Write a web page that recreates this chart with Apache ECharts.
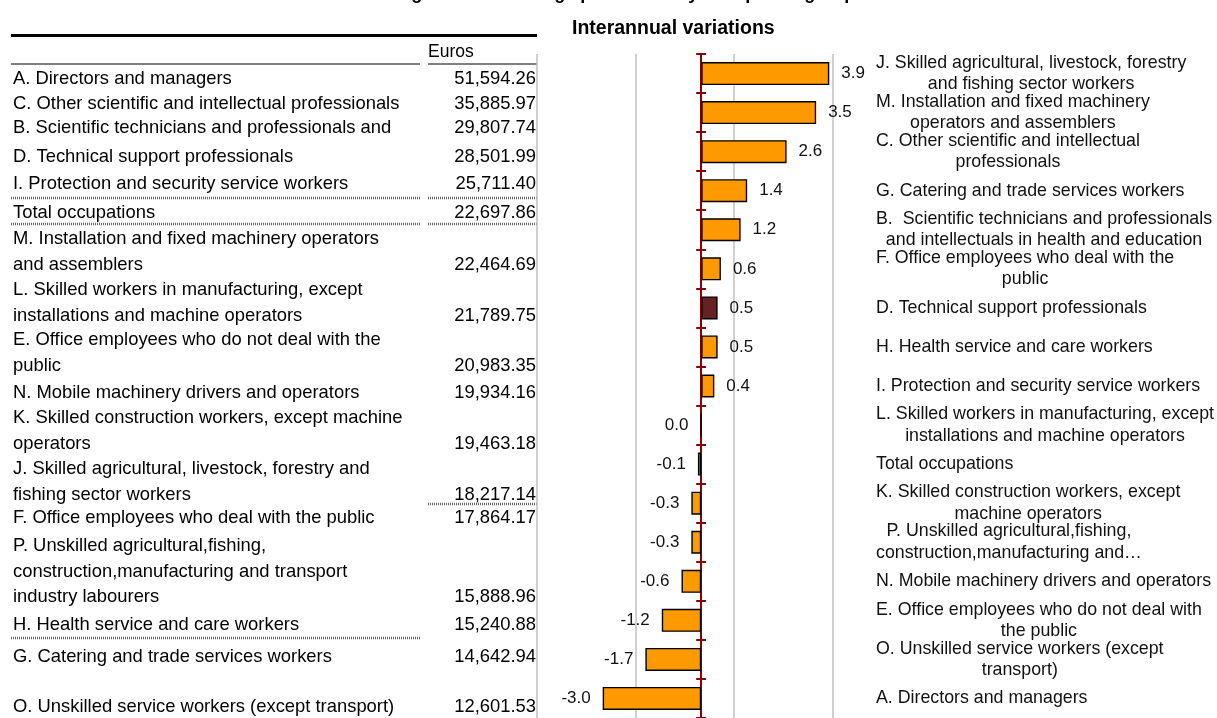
<!DOCTYPE html>
<html>
<head>
<meta charset="utf-8">
<script src="https://cdn.jsdelivr.net/npm/echarts@6/dist/echarts.min.js"></script>
<style>
html,body{margin:0;padding:0;background:#fff;}
#chart{width:1217px;height:718px;}
</style>
</head>
<body>
<div id="chart"></div>
<script>
// ---------- DATA ----------
const mainTitle = 'Average annual earnings per worker by occupation group';
const subTitle = 'Interannual variations';
const tableHeader = 'Euros';
const tableLabels = [
  ['A. Directors and managers'],
  ['C. Other scientific and intellectual professionals'],
  ['B. Scientific technicians and professionals and'],
  ['D. Technical support professionals'],
  ['I. Protection and security service workers'],
  ['Total occupations'],
  ['M. Installation and fixed machinery operators', 'and assemblers'],
  ['L. Skilled workers in manufacturing, except', 'installations and machine operators'],
  ['E. Office employees who do not deal with the', 'public'],
  ['N. Mobile machinery drivers and operators'],
  ['K. Skilled construction workers, except machine', 'operators'],
  ['J. Skilled agricultural, livestock, forestry and', 'fishing sector workers'],
  ['F. Office employees who deal with the public'],
  ['P. Unskilled agricultural,fishing,', 'construction,manufacturing and transport', 'industry labourers'],
  ['H. Health service and care workers'],
  ['G. Catering and trade services workers'],
  ['O. Unskilled service workers (except transport)']
];
const tableEuros = [51594.26, 35885.97, 29807.74, 28501.99, 25711.40, 22697.86, 22464.69, 21789.75,
  20983.35, 19934.16, 19463.18, 18217.14, 17864.17, 15888.96, 15240.88, 14642.94, 12601.53];

const categories = [
  'J. Skilled agricultural, livestock, forestry\nand fishing sector workers',
  'M. Installation and fixed machinery\noperators and assemblers',
  'C. Other scientific and intellectual\nprofessionals',
  'G. Catering and trade services workers',
  'B.  Scientific technicians and professionals\nand intellectuals in health and education',
  'F. Office employees who deal with the\npublic',
  'D. Technical support professionals',
  'H. Health service and care workers',
  'I. Protection and security service workers',
  'L. Skilled workers in manufacturing, except\ninstallations and machine operators',
  'Total occupations',
  'K. Skilled construction workers, except\nmachine operators',
  'P. Unskilled agricultural,fishing,\nconstruction,manufacturing and…',
  'N. Mobile machinery drivers and operators',
  'E. Office employees who do not deal with\nthe public',
  'O. Unskilled service workers (except\ntransport)',
  'A. Directors and managers'
];
const variation = [3.9, 3.5, 2.6, 1.4, 1.2, 0.6, 0.5, 0.5, 0.4, 0.0, -0.1, -0.3, -0.3, -0.6, -1.2, -1.7, -3.0];
const highlightedCategory = 'D. Technical support professionals';
const xMin = -5, xMax = 4, xInterval = 3;

// ---------- LAYOUT (table text positions, not data) ----------
const FONT = '"Liberation Sans", Arial, Helvetica, sans-serif';
const tableRowY = [79, 104, 128, 157, 184, 213, 239, 290, 340, 393, 418, 469, 518, 546, 625, 657, 707];
const lineStep = 25.5;
const labelX = 13, valueX = 536, colSplitL = 420, colSplitR = 428, tableL = 11, tableR = 537;
const tableFont = 18.4;

const fmt = v => v.toLocaleString('en-US', {minimumFractionDigits: 2, maximumFractionDigits: 2});

const graphics = [];
graphics.push({type: 'rect', shape: {x: tableL, y: 34, width: tableR - tableL, height: 3}, style: {fill: '#000'}});
graphics.push({type: 'text', x: colSplitR, y: 52, style: {text: tableHeader, fontSize: 17.5, fontFamily: FONT, fill: '#000', align: 'left', verticalAlign: 'middle'}});
graphics.push({type: 'line', shape: {x1: tableL, y1: 64, x2: colSplitL, y2: 64}, style: {stroke: '#000', lineWidth: 1}});
graphics.push({type: 'line', shape: {x1: colSplitR, y1: 64, x2: tableR, y2: 64}, style: {stroke: '#000', lineWidth: 1}});
function dotted(x1, x2, y) {
  graphics.push({type: 'line', shape: {x1: x1, y1: y, x2: x2, y2: y}, style: {stroke: '#666', lineWidth: 2.5, lineDash: [1, 1]}});
}
dotted(tableL, colSplitL, 198); dotted(colSplitR, tableR, 198);
dotted(tableL, colSplitL, 224); dotted(colSplitR, tableR, 224);
dotted(colSplitR, tableR, 504);
dotted(tableL, colSplitL, 638);

tableLabels.forEach((lines, i) => {
  lines.forEach((ln, j) => {
    graphics.push({type: 'text', x: labelX, y: tableRowY[i] + j * lineStep,
      style: {text: ln, fontSize: tableFont, fontFamily: FONT, fill: '#000', align: 'left', verticalAlign: 'middle'}});
  });
  graphics.push({type: 'text', x: valueX, y: tableRowY[i] + (lines.length - 1) * lineStep,
    style: {text: fmt(tableEuros[i]), fontSize: tableFont, fontFamily: FONT, fill: '#000', align: 'right', verticalAlign: 'middle'}});
});

const grid = {left: 537, top: 54, width: 296, height: 671};
const axisRed = '#8B0000';
// offset that brings a right-positioned axis onto the zero of the value axis
const zeroOffsetFromRight = -grid.width * (xMax - 0) / (xMax - xMin);

const chart = echarts.init(document.getElementById('chart'), null, {renderer: 'canvas'});
chart.setOption({
  animation: false,
  backgroundColor: '#fff',
  textStyle: {fontFamily: FONT},
  title: [
    {text: mainTitle, left: 'center', top: -20, textStyle: {fontSize: 18, fontWeight: 'bold', color: '#000', fontFamily: FONT}},
    {text: subTitle, left: 567, top: 14, textStyle: {fontSize: 19.5, fontWeight: 'bold', color: '#000', fontFamily: FONT}}
  ],
  grid: Object.assign({}, grid, {containLabel: false}),
  xAxis: {type: 'value', min: xMin, max: xMax, interval: xInterval,
    axisLine: {show: false}, axisTick: {show: false}, axisLabel: {show: false},
    splitLine: {show: true, lineStyle: {color: '#c0c0c0', width: 1.5}}},
  yAxis: [
    {type: 'category', data: categories, inverse: true, position: 'left',
      axisLine: {show: true, onZero: true, lineStyle: {color: axisRed, width: 2}},
      axisTick: {show: true, length: 5, lineStyle: {color: axisRed, width: 2}},
      axisLabel: {show: false}, splitLine: {show: false}},
    {type: 'category', data: categories, inverse: true, position: 'right', offset: zeroOffsetFromRight,
      axisLine: {show: false, onZero: false},
      axisTick: {show: true, length: 5, lineStyle: {color: axisRed, width: 2}},
      axisLabel: {show: true, interval: 0, margin: 175, fontSize: 17.8, color: '#111', fontFamily: FONT, lineHeight: 21.5,
        formatter: v => v.split('\n').map(s => '{c|' + s + '}').join('\n'),
        rich: {c: {align: 'center', fontSize: 17.8, lineHeight: 21.5, fontFamily: FONT, color: '#111'}}},
      splitLine: {show: false}}
  ],
  series: [{
    type: 'bar', barWidth: 23,
    data: variation.map((v, i) => ({
      value: v,
      itemStyle: {color: categories[i] === highlightedCategory ? '#662222' : '#FF9900'},
      label: {position: v > 0 ? 'right' : 'left'}
    })),
    itemStyle: {borderColor: '#000', borderWidth: 1.4},
    label: {show: true, distance: 12, fontSize: 17, color: '#111', fontFamily: FONT,
      formatter: p => p.value.toFixed(1)}
  }],
  graphic: graphics
});
</script>
</body>
</html>
